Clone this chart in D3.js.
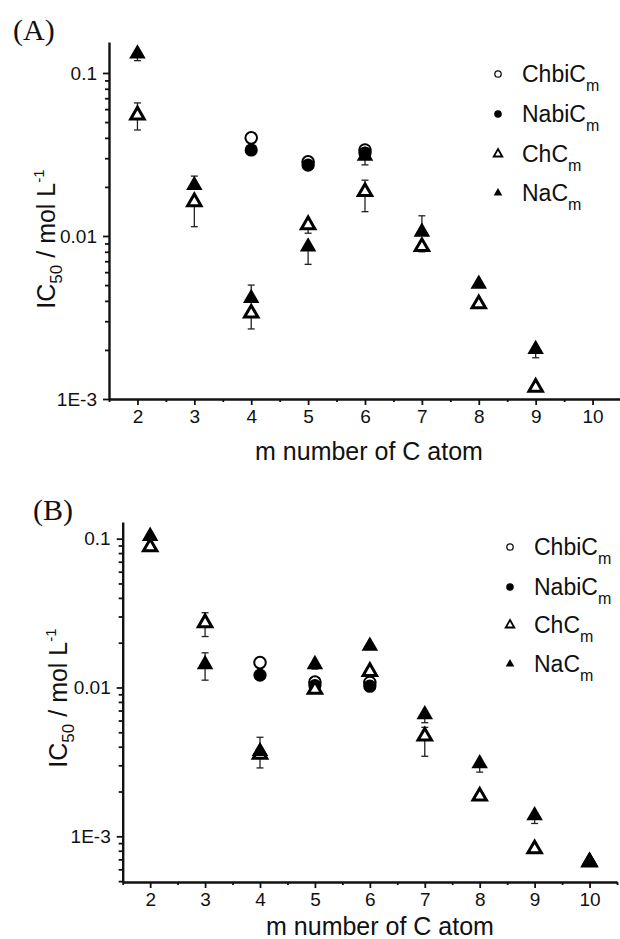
<!DOCTYPE html>
<html>
<head>
<meta charset="utf-8">
<script src="https://cdn.jsdelivr.net/npm/d3@7"></script>
<style>
  body { margin: 0; background: #fff; }
  svg { display: block; }
  .tick text { font-family: "Liberation Sans", Arial, sans-serif; font-size: 19px; fill: #111; }
  .axisTitle { font-family: "Liberation Sans", Arial, sans-serif; font-size: 25px; fill: #111; }
  .legendText { font-family: "Liberation Sans", Arial, sans-serif; font-size: 23px; fill: #111; }
  .panelLabel { font-family: "Liberation Serif", "Times New Roman", serif; font-size: 30px; fill: #111; }
</style>
</head>
<body>
<div id="chart"></div>
<script>
// m values shared by both panels
var mValues = [2, 3, 4, 5, 6, 7, 8, 9, 10];
var seriesNames = ["ChbiC", "NabiC", "ChC", "NaC"];
var yTickValues = [0.1, 0.01, 0.001];
var yTickLabels = ["0.1", "0.01", "1E-3"];

// panel A values (null = no point)
var aChbiC = [null, null, 0.0400, 0.0285, 0.0337, null, null, null, null];
var aNabiC = [null, null, 0.0337, 0.0272, 0.0323, null, null, null, null];
var aChC   = [0.0552, 0.0162, 0.00336, 0.0117, 0.0187, 0.0086, 0.00383, 0.00118, null];
var aNaC   = [0.131, 0.0205, 0.00415, 0.0086, 0.0310, 0.0106, 0.00508, 0.00202, null];
// error bar ends (low, high); same as value where no bar is seen
var aChCLo = [0.0447, 0.0114, 0.00269, 0.0104, 0.0141, 0.0080, 0.00383, 0.00118, null];
var aChCHi = [0.0655, 0.0162, 0.00336, 0.0117, 0.0220, 0.0086, 0.00383, 0.00118, null];
var aNaCLo = [0.119, 0.0205, 0.00415, 0.0067, 0.0273, 0.0106, 0.00508, 0.00179, null];
var aNaCHi = [0.131, 0.0233, 0.0050, 0.0086, 0.0310, 0.0133, 0.00508, 0.00202, null];

// panel B values
var bChbiC = [null, null, 0.0147, 0.01086, 0.0108, null, null, null, null];
var bNabiC = [null, null, 0.0121, 0.0103, 0.0102, null, null, null, null];
var bChC   = [0.088, 0.0272, 0.00355, 0.0097, 0.0128, 0.00471, 0.00186, 0.000822, 0.00067];
var bNaC   = [0.104, 0.0143, 0.00373, 0.0143, 0.0190, 0.00658, 0.00308, 0.00138, 0.000683];
var bChCLo = [0.088, 0.0220, 0.00288, 0.0097, 0.0128, 0.00345, 0.00186, 0.000822, 0.00067];
var bChCHi = [0.088, 0.0318, 0.00463, 0.0097, 0.0128, 0.0054, 0.00186, 0.000822, 0.00067];
var bNaCLo = [0.104, 0.0112, 0.00373, 0.0133, 0.0190, 0.0058, 0.0027, 0.00122, 0.000683];
var bNaCHi = [0.104, 0.0171, 0.00373, 0.0143, 0.0190, 0.00658, 0.00308, 0.00138, 0.000683];

var width = 620, height = 939;

var svg = d3.select("#chart")
  .append("svg")
  .attr("width", width)
  .attr("height", height);

var panels = [
  {
    label: "(A)", labelX: 13, labelY: 40,
    x0: 109, x1: 621, yBottom: 399, yTop: 42,
    yMin: 0.001, yMax: Math.pow(10, -0.81),
    titleX: 369, titleY: 460, yTitleX: 55, yTitleY: 239,
    legX: 498, legY: [74, 114, 154, 193],
    chbi: aChbiC, nabi: aNabiC, chc: aChC, nac: aNaC,
    chcLo: aChCLo, chcHi: aChCHi, nacLo: aNaCLo, nacHi: aNaCHi
  },
  {
    label: "(B)", labelX: 33, labelY: 520,
    x0: 122.7, x1: 617, yBottom: 882, yTop: 522,
    yMin: Math.pow(10, -3.307), yMax: Math.pow(10, -0.888),
    titleX: 380, titleY: 935, yTitleX: 67, yTitleY: 698,
    legX: 510, legY: [547, 587, 625, 664],
    chbi: bChbiC, nabi: bNabiC, chc: bChC, nac: bNaC,
    chcLo: bChCLo, chcHi: bChCHi, nacLo: bNaCLo, nacHi: bNaCHi
  }
];

var triBig = d3.symbol().type(d3.symbolTriangle).size(118);
var triOpen = d3.symbol().type(d3.symbolTriangle).size(78);
var triSmall = d3.symbol().type(d3.symbolTriangle).size(32);

panels.forEach(function(p) {
  var xScale = d3.scaleLinear()
    .domain([1.5, 10.5])
    .range([p.x0, p.x1]);

  var yScale = d3.scaleLog()
    .domain([p.yMin, p.yMax])
    .range([p.yBottom, p.yTop]);

  // minor ticks
  var xMinor = d3.range(1.5, 10.6, 0.5).filter(function(v) { return v % 1 !== 0; });
  var yMinor = [];
  [-4, -3, -2, -1].forEach(function(e) {
    for (var k = 2; k <= 9; k++) {
      var v = k * Math.pow(10, e);
      if (v >= p.yMin && v <= p.yMax) yMinor.push(v);
    }
  });

  var g = svg.append("g");

  g.append("g")
    .attr("transform", `translate(0,${p.yBottom})`)
    .call(d3.axisBottom(xScale).tickValues(xMinor).tickSize(3).tickFormat(""))
    .call(function(s) { s.select(".domain").remove(); });

  g.append("g")
    .attr("transform", `translate(${p.x0},0)`)
    .call(d3.axisLeft(yScale).tickValues(yMinor).tickSize(4).tickFormat(""))
    .call(function(s) { s.select(".domain").remove(); });

  var xAxis = g.append("g")
    .attr("transform", `translate(0,${p.yBottom})`)
    .call(d3.axisBottom(xScale).tickValues(mValues).tickSize(6).tickPadding(5).tickSizeOuter(0).tickFormat(d3.format("d")));

  var yAxis = g.append("g")
    .attr("transform", `translate(${p.x0},0)`)
    .call(d3.axisLeft(yScale).tickValues(yTickValues).tickSize(6).tickPadding(6).tickSizeOuter(0)
      .tickFormat(function(d, i) { return yTickLabels[i]; }));

  g.selectAll(".domain").attr("stroke", "#111").attr("stroke-width", 2.4);
  g.selectAll(".tick line").attr("stroke", "#111").attr("stroke-width", 1.8);

  // panel label
  g.append("text")
    .attr("class", "panelLabel")
    .attr("x", p.labelX)
    .attr("y", p.labelY)
    .text(p.label);

  // axis titles
  g.append("text")
    .attr("class", "axisTitle")
    .attr("x", p.titleX)
    .attr("y", p.titleY)
    .attr("text-anchor", "middle")
    .text("m number of C atom");

  var yt = g.append("text")
    .attr("class", "axisTitle")
    .attr("transform", `translate(${p.yTitleX},${p.yTitleY}) rotate(-90)`)
    .attr("text-anchor", "middle");
  yt.append("tspan").text("IC");
  yt.append("tspan").attr("font-size", "17px").attr("dy", 7).text("50");
  yt.append("tspan").attr("dy", -7).text(" / mol L");
  yt.append("tspan").attr("font-size", "15px").attr("dy", -11).text("-1");

  // error bars
  function errorBars(vals, lo, hi) {
    var rows = mValues.map(function(m, i) { return {m: m, v: vals[i], lo: lo[i], hi: hi[i]}; })
      .filter(function(d) { return d.v !== null && (d.lo < d.v || d.hi > d.v); });
    var eg = g.append("g").attr("stroke", "#222").attr("stroke-width", 1.3);
    rows.forEach(function(d) {
      var x = xScale(d.m);
      eg.append("line").attr("x1", x).attr("x2", x)
        .attr("y1", yScale(d.lo)).attr("y2", yScale(d.hi));
      if (d.lo < d.v) {
        eg.append("line").attr("x1", x - 3.5).attr("x2", x + 3.5)
          .attr("y1", yScale(d.lo)).attr("y2", yScale(d.lo));
      }
      if (d.hi > d.v) {
        eg.append("line").attr("x1", x - 3.5).attr("x2", x + 3.5)
          .attr("y1", yScale(d.hi)).attr("y2", yScale(d.hi));
      }
    });
  }
  errorBars(p.chc, p.chcLo, p.chcHi);
  errorBars(p.nac, p.nacLo, p.nacHi);

  function pts(vals) {
    return mValues.map(function(m, i) { return {m: m, v: vals[i]}; })
      .filter(function(d) { return d.v !== null; });
  }

  g.selectAll(".chbi")
    .data(pts(p.chbi))
    .enter()
    .append("circle")
      .attr("cx", function(d) { return xScale(d.m); })
      .attr("cy", function(d) { return yScale(d.v); })
      .attr("r", 5.8)
      .attr("fill", "#fff")
      .attr("stroke", "#000")
      .attr("stroke-width", 2);

  g.selectAll(".nabi")
    .data(pts(p.nabi))
    .enter()
    .append("circle")
      .attr("cx", function(d) { return xScale(d.m); })
      .attr("cy", function(d) { return yScale(d.v); })
      .attr("r", 6.6)
      .attr("fill", "#000");

  g.selectAll(".chc")
    .data(pts(p.chc))
    .enter()
    .append("path")
      .attr("d", triOpen)
      .attr("transform", function(d) { return `translate(${xScale(d.m)},${yScale(d.v)})`; })
      .attr("fill", "#fff")
      .attr("stroke", "#000")
      .attr("stroke-width", 3)
      .attr("stroke-linejoin", "miter");

  g.selectAll(".nac")
    .data(pts(p.nac))
    .enter()
    .append("path")
      .attr("d", triBig)
      .attr("transform", function(d) { return `translate(${xScale(d.m)},${yScale(d.v)})`; })
      .attr("fill", "#000");

  // legend
  var leg = g.append("g");
  seriesNames.forEach(function(name, i) {
    var y = p.legY[i];
    if (i === 0) {
      leg.append("circle").attr("cx", p.legX).attr("cy", y).attr("r", 3.2)
        .attr("fill", "#fff").attr("stroke", "#111").attr("stroke-width", 1.3);
    } else if (i === 1) {
      leg.append("circle").attr("cx", p.legX).attr("cy", y).attr("r", 3.8).attr("fill", "#000");
    } else if (i === 2) {
      leg.append("path").attr("d", triSmall).attr("transform", `translate(${p.legX},${y})`)
        .attr("fill", "#fff").attr("stroke", "#000").attr("stroke-width", 1.8);
    } else {
      leg.append("path").attr("d", triSmall).attr("transform", `translate(${p.legX},${y})`)
        .attr("fill", "#000");
    }
    var t = leg.append("text")
      .attr("class", "legendText")
      .attr("x", p.legX + 24)
      .attr("y", y + 8);
    t.append("tspan").text(name);
    t.append("tspan").attr("font-size", "16px").attr("dy", 9).text("m");
  });
});
</script>
</body>
</html>
